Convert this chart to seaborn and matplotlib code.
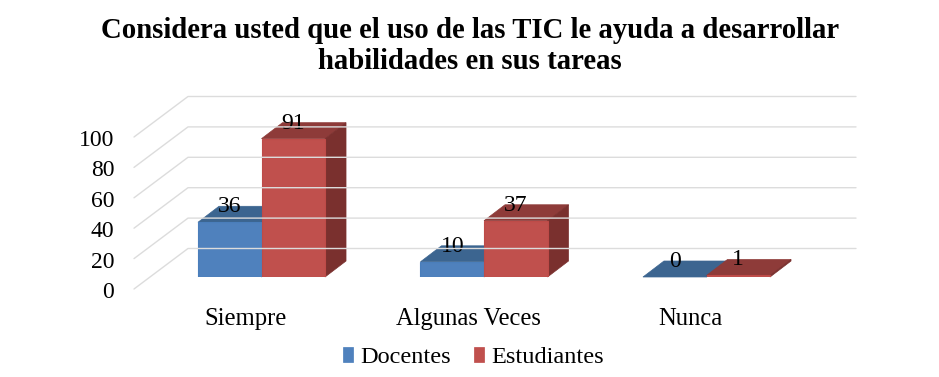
import matplotlib
matplotlib.use("Agg")
import matplotlib.pyplot as plt
from matplotlib.patches import Polygon
from matplotlib.lines import Line2D
from matplotlib.transforms import IdentityTransform, Affine2D
import pandas as pd
import seaborn as sns

categories = ["Siempre", "Algunas Veces", "Nunca"]
docentes = [36, 10, 0]
estudiantes = [91, 37, 1]
series_names = ["Docentes", "Estudiantes"]
y_ticks = [0, 20, 40, 60, 80, 100]
title_text = "Considera usted que el uso de las TIC le ayuda a desarrollar\nhabilidades en sus tareas"

sns.set_theme(style="white")
plt.rcParams["font.family"] = ["Liberation Serif", "DejaVu Serif"]

W, H = 939, 377
DX, DY = 21, 16            # bar depth in pixels
fig = plt.figure(figsize=(W / 100, H / 100), dpi=100, facecolor="white")
ax = fig.add_axes([150.25 / W, (H - 277) / H, 667.5 / W, 182.4 / H])
ax.patch.set_alpha(0)

df = pd.DataFrame({
    "cat": categories * 2,
    "val": docentes + estudiantes,
    "serie": [series_names[0]] * 3 + [series_names[1]] * 3,
})
front = ["#4F81BD", "#C0504D"]
edge = ["#4A7EBB", "#BE4B48"]
top = ["#3C6590", "#8E3B39"]
side = ["#355A85", "#7A302E"]

sns.barplot(data=df, x="cat", y="val", hue="serie", hue_order=series_names,
            palette=front, width=0.571, gap=0, saturation=1, ax=ax, legend=False)
ax.set_xlim(-0.5, 2.5)
ax.set_ylim(0, 120)
ax.set_yticks(y_ticks)
ax.set_xlabel("")
ax.set_ylabel("")
for s in ax.spines.values():
    s.set_visible(False)
ax.tick_params(axis="y", length=0, labelsize=17, labelcolor="black", pad=26)
ax.tick_params(axis="x", length=0, labelsize=17.7, labelcolor="black", pad=22.5)

for lab in ax.get_yticklabels():
    lab.set_transform(lab.get_transform() + Affine2D().translate(0, -13))
for lab in ax.get_xticklabels():
    lab.set_transform(lab.get_transform() + Affine2D().translate(-16, 0))

# depth-wall gridlines, positioned from the value scale
pix = IdentityTransform()
grid_c = "#DCDCDC"
for v in y_ticks:
    y = ax.transData.transform((0, v))[1]
    fig.add_artist(Line2D([134, 188, 856], [y - 12, y + 28.5, y + 28.5], color=grid_c,
                          lw=1.0, transform=pix, zorder=0.5))

# bars: front face from seaborn, top and side faces derived from it
for i, cont in enumerate(ax.containers):
    base = 2 + 2 * i
    for bar, val in zip(cont.patches, cont.datavalues):
        (x0, y0), (x1, y1) = ax.transData.transform(
            [(bar.get_x(), 0), (bar.get_x() + bar.get_width(), bar.get_height())])
        bar.set_zorder(base + 1)
        bar.set_edgecolor(edge[i])
        bar.set_linewidth(0.8)
        ax.add_patch(Polygon([(x0, y1), (x1, y1), (x1 + DX, y1 + DY), (x0 + DX, y1 + DY)],
                             closed=True, fc=top[i], ec=top[i], lw=0.5,
                             transform=pix, clip_on=False, zorder=base))
        ax.add_patch(Polygon([(x1, y0), (x1 + DX, y0 + DY), (x1 + DX, y1 + DY), (x1, y1)],
                             closed=True, fc=side[i], ec=side[i], lw=0.5,
                             transform=pix, clip_on=False, zorder=base))
        ax.annotate(f"{val:.0f}", xy=((x0 + x1) / 2, y1 + DY - 0.5), xycoords=pix,
                    ha="center", va="center", fontsize=17, color="black",
                    annotation_clip=False, zorder=10)

fig.text(470 / W, 1 - 46 / H, title_text, ha="center", va="center", fontsize=20.7,
         fontweight="bold", color="black", linespacing=1.23)

handles = [plt.Rectangle((0, 0), 1, 1, fc=front[i], ec=edge[i], lw=0.5) for i in range(2)]
fig.legend(handles, series_names, loc="center", bbox_to_anchor=(473.5 / W, 1 - 357.5 / H),
           ncol=2, frameon=False, fontsize=17.45, handlelength=0.41, handleheight=0.56,
           handletextpad=0.29, columnspacing=0.95, borderpad=0, labelcolor="black")

fig.savefig("out.png", dpi=100, facecolor="white")
